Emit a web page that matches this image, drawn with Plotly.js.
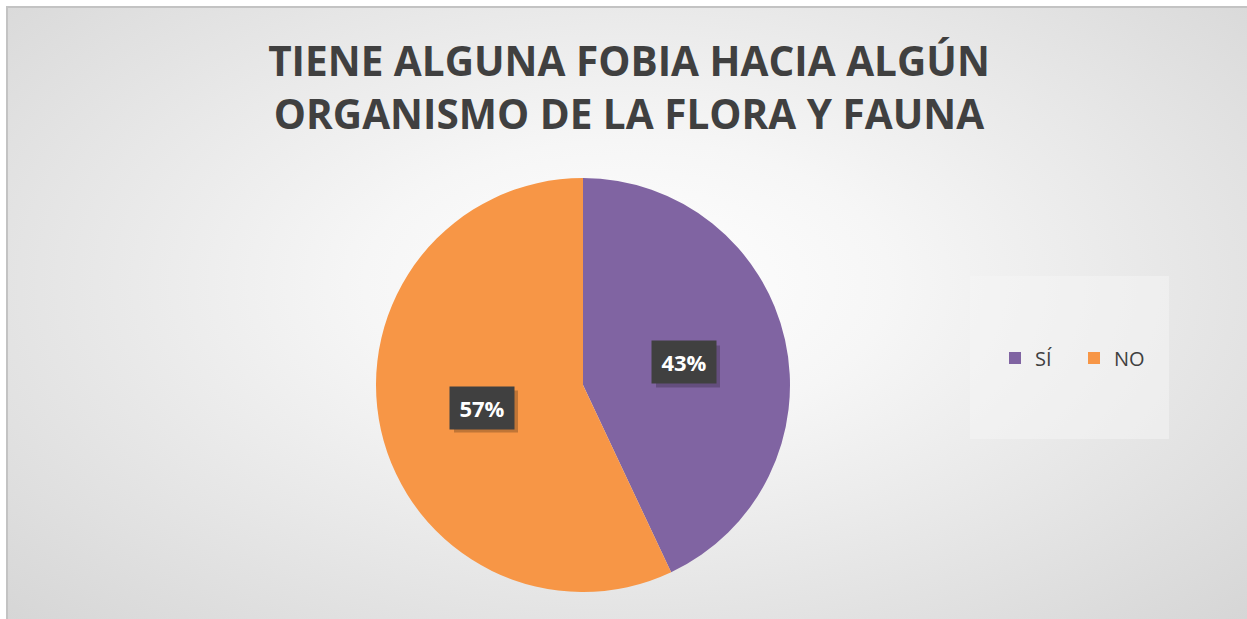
<!DOCTYPE html>
<html>
<head>
<meta charset="utf-8">
<script src="https://cdn.plot.ly/plotly-3.0.1.min.js"></script>
<style>
  html, body { margin:0; padding:0; background:#ffffff; width:1247px; height:619px; overflow:hidden; }
  #bg { position:absolute; left:6px; top:6px; right:0; bottom:0;
        border-left:2px solid #c3c3c3; border-top:2px solid #c3c3c3;
        background: radial-gradient(ellipse farthest-corner at 50% 45%, #ffffff 0%, #f6f6f6 30%, #e6e6e6 65%, #d6d6d6 100%); }
  #chart { position:absolute; left:0; top:0; width:1247px; height:619px; }
</style>
</head>
<body>
<div id="bg"></div>
<div id="chart"></div>
<script>
const categories = ['SÍ', 'NO'];
const values = [43, 57];
const sliceColors = ['#8064A2', '#F79646'];
const titleLines = ['TIENE ALGUNA FOBIA HACIA ALGÚN', 'ORGANISMO DE LA FLORA Y FAUNA'];

const W = 1247, H = 619;
const pieCx = 583, pieCy = 385, pieR = 207;
const domX = [(pieCx - pieR) / W, (pieCx + pieR) / W];
const domY = [1 - (pieCy + pieR) / H, 1 - (pieCy - pieR) / H];

const total = values.reduce((a, b) => a + b, 0);
const annotations = [];
const shapes = [{
  type: 'rect', xref: 'paper', yref: 'paper',
  x0: 970 / W, x1: 1169 / W, y0: 1 - 439 / H, y1: 1 - 276 / H,
  fillcolor: 'rgba(245,245,245,0.5)', line: { width: 0 }, layer: 'below'
}];
let cum = 0;
values.forEach((v, i) => {
  const mid = (cum + v / 2) / total * 2 * Math.PI; // clockwise from 12 o'clock
  cum += v;
  const px = pieCx + 0.5 * pieR * Math.sin(mid);
  const py = pieCy - 0.5 * pieR * Math.cos(mid);
  const txt = Math.round(v / total * 100) + '%';
  // soft shadow behind the label box
  shapes.push({
    type: 'rect', xref: 'paper', yref: 'paper', layer: 'above',
    xsizemode: 'pixel', ysizemode: 'pixel',
    xanchor: px / W, yanchor: 1 - py / H,
    x0: -32 + 4, x1: 32 + 4, y0: -21 - 4, y1: 21 - 4,
    fillcolor: 'rgba(0,0,0,0.22)', line: { width: 0 }
  });
  annotations.push({
    xref: 'paper', yref: 'paper', x: px / W, y: 1 - py / H,
    xanchor: 'center', yanchor: 'middle', showarrow: false,
    width: 52, height: 30, borderpad: 6,
    text: txt, bgcolor: '#404040',
    font: { family: 'Open Sans', size: 22, weight: 700, color: '#ffffff' }
  });
});

const data = [{
  type: 'pie',
  labels: categories,
  values: values,
  sort: false,
  direction: 'clockwise',
  rotation: 0,
  marker: { colors: sliceColors, line: { width: 0 } },
  textinfo: 'none',
  hoverinfo: 'skip',
  domain: { x: domX, y: domY }
}];

const layout = {
  width: W, height: H,
  margin: { l: 0, r: 0, t: 0, b: 0, pad: 0 },
  paper_bgcolor: 'rgba(0,0,0,0)',
  plot_bgcolor: 'rgba(0,0,0,0)',
  title: {
    text: titleLines.join('<br>'),
    font: { family: 'Open Sans', size: 40.5, weight: 700, color: '#404040' },
    x: 629 / W, xanchor: 'center',
    y: 1 - 76 / H, yanchor: 'middle', yref: 'container'
  },
  showlegend: true,
  legend: {
    orientation: 'h',
    x: 995 / W, xanchor: 'left',
    y: 1 - 358 / H, yanchor: 'middle',
    bgcolor: 'rgba(0,0,0,0)',
    font: { family: 'Open Sans', size: 20, color: '#404040' },
    entrywidth: 34, entrywidthmode: 'pixels'
  },
  shapes: shapes,
  annotations: annotations
};

Plotly.newPlot('chart', data, layout, { displayModeBar: false, staticPlot: true });
</script>
</body>
</html>
